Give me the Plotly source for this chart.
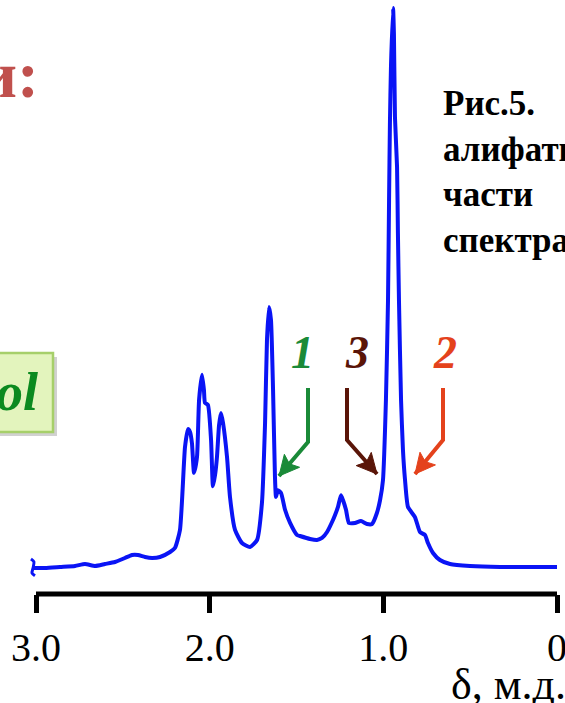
import plotly.graph_objects as go

# 1H NMR spectrum, aliphatic region (chemical shift in ppm, relative intensity)
shift_ppm = [
    3.017, 2.948, 2.862, 2.775, 2.718, 2.660, 2.603, 2.545, 2.488, 2.447,
    2.413, 2.372, 2.332, 2.286, 2.228, 2.200, 2.171, 2.142, 2.125, 2.113,
    2.102, 2.090, 2.073, 2.061, 2.044, 2.033, 2.027, 2.010, 1.992, 1.981,
    1.969, 1.958, 1.946, 1.935, 1.923, 1.900, 1.883, 1.854, 1.814, 1.768,
    1.727, 1.699, 1.681, 1.670, 1.658, 1.647, 1.635, 1.624, 1.618, 1.607,
    1.589, 1.566, 1.537, 1.497, 1.480, 1.422, 1.382, 1.353, 1.324, 1.290,
    1.278, 1.261, 1.244, 1.232, 1.215, 1.198, 1.163, 1.129, 1.094, 1.065,
    1.037, 1.019, 1.002, 0.985, 0.973, 0.967, 0.962, 0.956, 0.944, 0.939,
    0.933, 0.921, 0.916, 0.910, 0.898, 0.887, 0.875, 0.858, 0.818, 0.789,
    0.760, 0.743, 0.714, 0.674, 0.616, 0.501, 0.328, 0.156, 0.000,
]
intensity = [
    0.0, 0.0, 0.18, 0.36, 0.71, 0.36, 0.71, 1.07, 1.79, 2.32,
    2.32, 1.96, 1.79, 1.96, 2.86, 3.57, 6.79, 21.6, 24.8, 24.3,
    22.3, 17.0, 19.8, 30.0, 34.5, 31.8, 29.5, 29.1, 22.9, 14.6,
    16.6, 19.8, 25.5, 27.7, 25.9, 19.8, 12.7, 6.79, 4.46, 3.75,
    5.0, 11.6, 25.9, 40.7, 46.6, 44.3, 31.8, 16.3, 12.7, 13.9,
    13.4, 10.4, 8.04, 5.89, 5.71, 5.18, 5.0, 5.36, 6.43, 8.57,
    9.46, 10.9, 13.0, 12.1, 10.4, 8.04, 8.04, 8.39, 7.86, 7.86,
    9.82, 12.1, 15.7, 30.0, 47.9, 65.7, 79.5, 89.5, 100.0, 95.5,
    80.5, 71.6, 59.8, 47.9, 30.0, 21.1, 15.7, 10.9, 9.1, 6.43,
    5.89, 4.46, 2.68, 1.43, 0.71, 0.36, 0.18, 0.18, 0.18,
]
# small curl at the high-field start of the recorded trace
curl_ppm = [3.029, 3.012, 3.017, 3.023, 3.006]
curl_int = [1.6, 1.1, 0.0, -0.9, -1.4]

tick_vals = [3.0, 2.0, 1.0, 0.0]
tick_text = ["3.0", "2.0", "1.0", "0"]

# peak assignment labels: (text, colour)
peak_labels = [("1", "#1a8a38"), ("3", "#5a1508"), ("2", "#e4421c")]

W, H = 565, 703
L, R, T, B = 29, 5, 0, 109
PW, PH = W - L - R, H - T - B
SERIF = "Liberation Serif"
BLUE = "#0a14f5"


def px(x):
    return (x - L) / PW


def py(y):
    return (H - B - y) / PH


fig = go.Figure()
fig.add_trace(go.Scatter(
    x=shift_ppm, y=intensity, mode="lines",
    line=dict(color=BLUE, width=4, shape="spline", smoothing=0.5),
    hoverinfo="skip", showlegend=False,
))
fig.add_trace(go.Scatter(
    x=curl_ppm, y=curl_int, mode="lines",
    line=dict(color=BLUE, width=3, shape="spline", smoothing=0.8),
    hoverinfo="skip", showlegend=False,
))

shapes = []
annotations = []

# axis baseline bar
shapes.append(dict(type="line", xref="x", yref="paper", x0=3.0, x1=0.0,
                   y0=0, y1=0, line=dict(color="black", width=5)))


def bent_arrow(x_top, y_top, y_bend, x_tip, y_tip, color):
    shapes.append(dict(
        type="path", xref="paper", yref="paper",
        path=f"M {px(x_top)} {py(y_top)} L {px(x_top)} {py(y_bend)} "
             f"L {px(x_tip)} {py(y_tip)}",
        line=dict(color=color, width=4),
    ))
    dx, dy = x_tip - x_top, y_tip - y_bend
    n = (dx * dx + dy * dy) ** 0.5
    ux, uy = dx / n, dy / n
    hl, hw, notch = 20, 10, 4
    bx, by = x_tip - hl * ux, y_tip - hl * uy
    nx, ny = x_tip - (hl - notch) * ux, y_tip - (hl - notch) * uy
    w1 = (bx + hw * uy, by - hw * ux)
    w2 = (bx - hw * uy, by + hw * ux)
    shapes.append(dict(
        type="path", xref="paper", yref="paper",
        path=f"M {px(x_tip)} {py(y_tip)} L {px(w1[0])} {py(w1[1])} "
             f"L {px(nx)} {py(ny)} L {px(w2[0])} {py(w2[1])} Z",
        fillcolor=color, line=dict(color=color, width=1),
    ))


arrow_geom = [(308, 388, 442, 279, 476), (347, 388, 440, 377, 474), (443, 388, 440, 415, 474)]
label_x = [302, 357, 445]
for (txt, col), geom, lx in zip(peak_labels, arrow_geom, label_x):
    bent_arrow(*geom, col)
    annotations.append(dict(
        text=f"<b><i>{txt}</i></b>", xref="paper", yref="paper",
        x=px(lx), y=py(352), xanchor="center", yanchor="middle", showarrow=False,
        font=dict(family=SERIF, size=46, color=col),
    ))

# green "ol" label box with soft shadow
shapes.append(dict(type="rect", xref="paper", yref="paper",
                   x0=px(-10), x1=px(57), y0=py(436), y1=py(357),
                   fillcolor="rgba(0,0,0,0.18)", line=dict(width=0)))
shapes.append(dict(type="rect", xref="paper", yref="paper",
                   x0=px(-10), x1=px(53), y0=py(432), y1=py(353),
                   fillcolor="#e3f4bd", line=dict(color="#a6cf6a", width=2.5)))
annotations.append(dict(
    text="<b><i>ol</i></b>", xref="paper", yref="paper",
    x=px(40), y=py(392), xanchor="right", yanchor="middle", showarrow=False,
    font=dict(family=SERIF, size=54, color="#0b8a1f"),
))

# heading fragment
annotations.append(dict(
    text="<b>и:</b>", xref="paper", yref="paper",
    x=px(41), y=py(74), xanchor="right", yanchor="middle", showarrow=False,
    font=dict(family=SERIF, size=66, color="#c0504d"),
))

# figure caption
annotations.append(dict(
    text="<b>Рис.5.<br>алифатической<br>части<br>спектра</b>",
    xref="paper", yref="paper", x=px(441), y=py(82),
    xanchor="left", yanchor="top", align="left", showarrow=False,
    font=dict(family=SERIF, size=35, color="black"),
))

# axis title
annotations.append(dict(
    text="δ, м.д.", xref="paper", yref="paper",
    x=px(568), y=py(684), xanchor="right", yanchor="middle", showarrow=False,
    font=dict(family=SERIF, size=44, color="black"),
))

fig.update_layout(
    width=W, height=H,
    margin=dict(l=L, r=R, t=T, b=B, autoexpand=False),
    paper_bgcolor="white", plot_bgcolor="white",
    shapes=shapes, annotations=annotations,
    xaxis=dict(
        range=[3.0403, -0.0173], showgrid=False, zeroline=False, showline=False,
        tickmode="array", tickvals=tick_vals, ticktext=tick_text,
        ticks="outside", ticklen=18, tickwidth=5, tickcolor="black",
        tickfont=dict(family=SERIF, size=40, color="black"),
        ticklabeloverflow="allow",
        automargin=False, fixedrange=True,
    ),
    yaxis=dict(range=[-4.643, 101.43], visible=False, fixedrange=True),
)

fig.write_html("out.html")
